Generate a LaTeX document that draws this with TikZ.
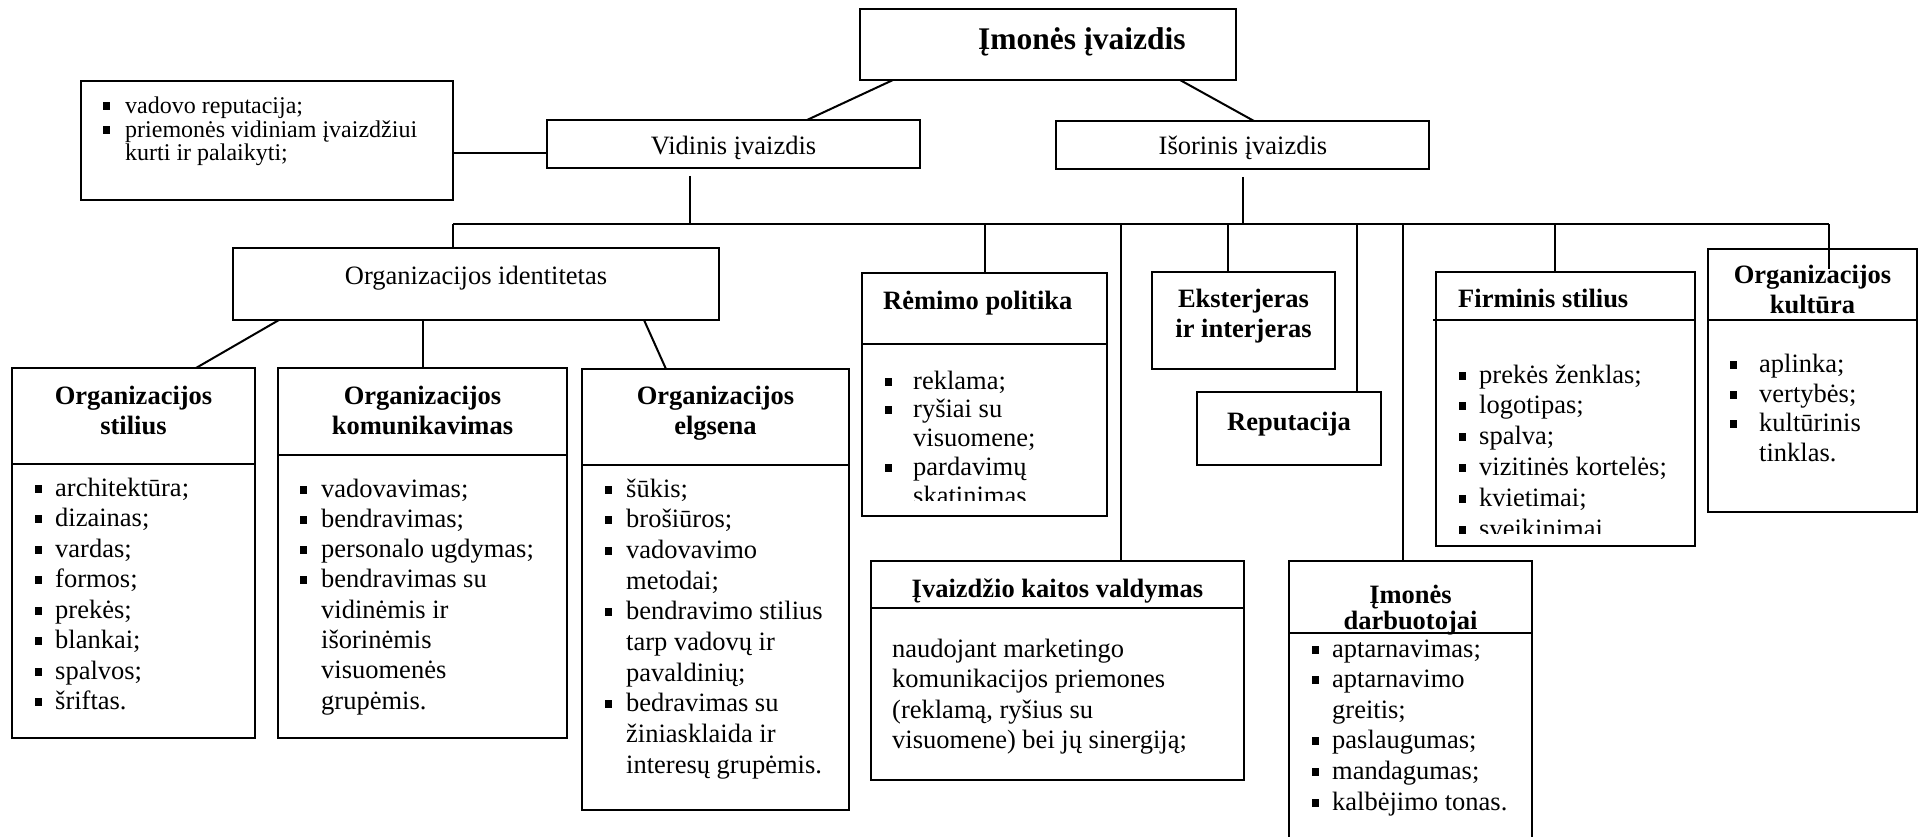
\documentclass[tikz,border=0pt]{standalone}
\usepackage{fontspec}
\setmainfont{Liberation Serif}
\newlength\bgap
% small square bullet hanging left of the text start
\newcommand\bl{\makebox[0pt][r]{\rule[3.5pt]{7pt}{8pt}\hspace{\bgap}}}
% a column of text lines: name prefix, style, x, first baseline, pitch, bullet gap, lines
\newcommand\textcol[7]{%
  \setlength\bgap{#6pt}%
  \foreach \t [count=\i] in {#7}{\node[#2] (#1\i) at (#3,{#4+(\i-1)*#5}) {\t};}}
% framed box from its corners
\newcommand\mkbox[5]{\node[box, minimum width=#4pt-#2pt, minimum height=#5pt-#3pt] (#1) at (#2,#3) {};}
% header rule inside a box
\newcommand\divider[2]{\draw[box line] ([yshift=-#2pt]#1.north west) -- ([yshift=-#2pt]#1.north east);}
\begin{document}
\begin{tikzpicture}[x=1pt,y=-1pt,
  box/.style={draw, line width=2.2pt, rectangle, anchor=north west, inner sep=0pt, outer sep=0pt},
  box line/.style={line width=2.2pt},
  conn/.style={line width=2pt},
  body/.style={anchor=base west, inner sep=0pt, font=\fontsize{26.5}{30}\selectfont},
  small/.style={anchor=base west, inner sep=0pt, font=\fontsize{24}{27}\selectfont},
  para/.style={anchor=base west, inner sep=0pt, font=\fontsize{26.5}{30}\selectfont},
  head/.style={anchor=base, inner sep=0pt, font=\fontsize{26.5}{30}\selectfont\bfseries},
  headl/.style={anchor=base west, inner sep=0pt, font=\fontsize{26.5}{30}\selectfont\bfseries},
  plain/.style={anchor=base, inner sep=0pt, font=\fontsize{26.5}{30}\selectfont},
]
\useasboundingbox (0,0) rectangle (1919,837);
\clip (0,0) rectangle (1919,837);

% ---- boxes ----
\mkbox{top}{860}{9}{1236}{80}
\mkbox{vid}{547}{120}{920}{168}
\mkbox{iso}{1056}{121}{1429}{169}
\mkbox{lft}{81}{81}{453}{200}
\mkbox{oid}{233}{248}{719}{320}
\mkbox{ost}{12}{368}{255}{738}
\mkbox{okm}{278}{368}{567}{738}
\mkbox{oel}{582}{369}{849}{810}
\mkbox{rem}{862}{273}{1107}{516}
\mkbox{ext}{1152}{272}{1335}{369}
\mkbox{rep}{1197}{392}{1381}{465}
\mkbox{fir}{1436}{272}{1695}{546}
\mkbox{okt}{1708}{249}{1917}{512}
\mkbox{ivk}{871}{561}{1244}{780}
\mkbox{dar}{1289}{561}{1532}{870}

\divider{ost}{96}
\divider{okm}{87}
\divider{oel}{96}
\divider{rem}{71}
\draw[box line] ([xshift=-3pt,yshift=-48pt]fir.north west) -- ([yshift=-48pt]fir.north east);
\divider{okt}{71}
\divider{ivk}{47}
\divider{dar}{72}

% ---- connectors ----
\draw[conn] ([xshift=33pt]top.south west) -- ([xshift=260pt]vid.north west);
\draw[conn] ([xshift=320pt]top.south west) -- ([xshift=198pt]iso.north west);
\draw[conn] ([yshift=-72pt]lft.north east) -- ([yshift=-33pt]vid.north west);

\coordinate (busL) at (453,224.5);
\coordinate (busR) at (1829,224.5);
\draw[conn] (busL) -- (busR);
\coordinate (vdn) at ([xshift=143pt,yshift=-8pt]vid.south west);
\draw[conn] (vdn) -- (vdn |- busL);
\coordinate (idn) at ([yshift=-8pt]iso.south);
\draw[conn] (idn) -- (idn |- busL);
\draw[conn] (busL) -- (busL |- oid.north);

\draw[conn] (rem.north |- busL) -- (rem.north);
\coordinate (ivkT) at ([xshift=250pt]ivk.north west);
\draw[conn] (ivkT |- busL) -- (ivkT);
\coordinate (extT) at ([xshift=76pt]ext.north west);
\draw[conn] (extT |- busL) -- (extT);
\coordinate (repT) at ([xshift=160pt]rep.north west);
\draw[conn] (repT |- busL) -- (repT);
\coordinate (darT) at ([xshift=114pt]dar.north west);
\draw[conn] (darT |- busL) -- (darT);
\coordinate (firT) at ([xshift=119pt]fir.north west);
\draw[conn] (firT |- busL) -- (firT);
\coordinate (oktT) at ([xshift=121pt,yshift=-20pt]okt.north west);
\draw[conn] (oktT |- busL) -- (oktT);

\draw[conn] ([xshift=46pt]oid.south west) -- ([xshift=184pt]ost.north west);
\draw[conn] (okm.north |- oid.south) -- (okm.north);
\draw[conn] ([xshift=411pt]oid.south west) -- ([xshift=84pt]oel.north west);

% ---- texts ----
\node[anchor=base west, inner sep=0pt, font=\fontsize{31.5}{34}\selectfont\bfseries] (tTop) at (978,50) {Įmonės įvaizdis};
\node[plain] (tVid) at (733.5,155) {Vidinis įvaizdis};
\node[plain] (tIso) at (1243,155) {Išorinis įvaizdis};
\node[plain] (tOid) at (476,284) {Organizacijos identitetas};

\textcol{lf}{small}{125}{114}{23.5}{15}{{\bl vadovo reputacija;},{\bl priemonės vidiniam įvaizdžiui},{kurti ir palaikyti;}}

\textcol{hst}{head}{133.5}{404}{30}{0}{Organizacijos,stilius}
\textcol{st}{body}{55}{496}{30.5}{13}{{\bl architektūra;},{\bl dizainas;},{\bl vardas;},{\bl formos;},{\bl prekės;},{\bl blankai;},{\bl spalvos;},{\bl šriftas.}}

\textcol{hkm}{head}{422.5}{404}{30}{0}{Organizacijos,komunikavimas}
\textcol{km}{body}{321}{497}{30.3}{14}{{\bl vadovavimas;},{\bl bendravimas;},{\bl personalo ugdymas;},{\bl bendravimas su},{vidinėmis ir},{išorinėmis},{visuomenės},{grupėmis.}}

\textcol{hel}{head}{715.5}{404}{30}{0}{Organizacijos,elgsena}
\textcol{el}{body}{626}{497}{30.7}{14}{{\bl šūkis;},{\bl brošiūros;},{\bl vadovavimo},{metodai;},{\bl bendravimo stilius},{tarp vadovų ir},{pavaldinių;},{\bl bedravimas su},{žiniasklaida ir},{interesų grupėmis.}}

\node[headl] (hRem) at (883,309) {Rėmimo politika};
\begin{scope}
  \clip (862,273) rectangle (1107,500);
  \textcol{rm}{body}{913}{389}{28.8}{21}{{\bl reklama;},{\bl ryšiai su},{visuomene;},{\bl pardavimų},{skatinimas.}}
\end{scope}

\textcol{hex}{head}{1243.5}{307}{30}{0}{Eksterjeras,ir interjeras}
\node[head] (hRep) at (1289,430) {Reputacija};

\node[headl] (hFir) at (1458,307) {Firminis stilius};
\begin{scope}
  \clip (1436,272) rectangle (1695,533);
  \textcol{fr}{body}{1479}{383}{30.8}{13}{{\bl prekės ženklas;},{\bl logotipas;},{\bl spalva;},{\bl vizitinės kortelės;},{\bl kvietimai;},{\bl sveikinimai.}}
\end{scope}

\textcol{hkt}{head}{1812.5}{283}{30}{0}{Organizacijos,kultūra}
\textcol{kt}{body}{1759}{372.5}{29.5}{22}{{\bl aplinka;},{\bl vertybės;},{\bl kultūrinis},{tinklas.}}

\node[head] (hIvk) at (1057.5,597) {Įvaizdžio kaitos valdymas};
\textcol{iv}{para}{892}{657}{30.5}{0}{naudojant marketingo,komunikacijos priemones,{(reklamą, ryšius su},{visuomene) bei jų sinergiją;}}

\textcol{hdr}{head}{1410.5}{603}{26}{0}{Įmonės,darbuotojai}
\textcol{dr}{body}{1332}{657}{30.6}{13}{{\bl aptarnavimas;},{\bl aptarnavimo},{greitis;},{\bl paslaugumas;},{\bl mandagumas;},{\bl kalbėjimo tonas.}}
\end{tikzpicture}
\end{document}
